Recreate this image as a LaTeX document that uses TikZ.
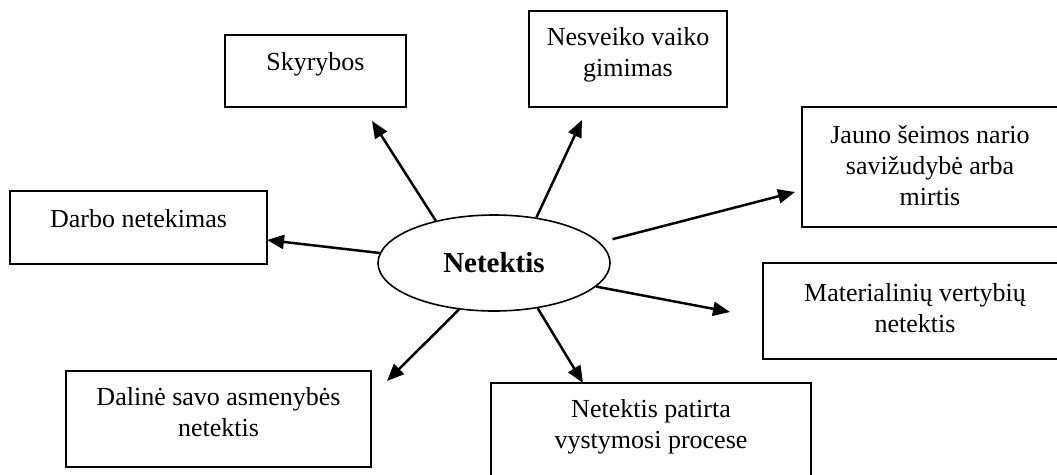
\documentclass[tikz,border=0pt]{standalone}
\usepackage{fontspec}
\setmainfont{Liberation Serif}
\usetikzlibrary{shapes.geometric,arrows.meta}

\tikzstyle{box} = [draw, line width=1.6pt, inner sep=0pt]
\tikzstyle{loss} = [ellipse, draw, line width=1.6pt, inner sep=0pt, minimum width=232pt, minimum height=96pt, font=\bfseries\fontsize{29}{32}\selectfont]
\tikzstyle{edge} = [draw, line width=2.5pt, -{Triangle[length=17pt,width=14pt]}]
\tikzstyle{caption} = [align=center, font=\fontsize{26}{31}\selectfont]

\begin{document}
\begin{tikzpicture}[x=1pt, y=-1pt]
     \clip (0,0) rectangle (1057,474);
     % The central ellipse
     \node[loss] (n) at (494,263) {Netektis};

     % Then the boxes round it
     \foreach \pos/\w/\h/\name in { {(315.5,71)/181/72/sky},
       {(628,59)/198/96/nes}, {(930,167)/256/120/jau},
       {(915,311)/304/96/mat}, {(651,433)/320/100/pat},
       {(218.5,419)/305/96/dal}, {(138.5,227.5)/257/73/dar}}
     \node[box, minimum width=\w pt, minimum height=\h pt] (\name) at \pos {};

     % Texts, set a little high in the boxes
     \node[caption] (sky-t) at (315.5,64) {Skyrybos};
     \node[caption] (nes-t) at (628,55) {Nesveiko vaiko\\gimimas};
     \node[caption] (jau-t) at (930,166) {Jauno šeimos nario\\savižudybė arba\\mirtis};
     \node[caption] (mat-t) at (915,308) {Materialinių vertybių\\netektis};
     \node[caption] (pat-t) at (651,427) {Netektis patirta\\vystymosi procese};
     \node[caption] (dal-t) at (218.5,412) {Dalinė savo asmenybės\\netektis};
     \node[caption] (dar-t) at (138.5,219) {Darbo netekimas};

     % Free ends of the arrows
     \coordinate (sky-tip) at (372,121);
     \coordinate (nes-tip) at (582,120);
     \coordinate (jau-tip) at (795,192);
     \coordinate (mat-tip) at (730,312);
     \coordinate (pat-tip) at (583,383);
     \coordinate (dal-tip) at (387,381);
     \coordinate (dar-tip) at (267,240);

     % Arrows out of the ellipse
     \foreach \angle/\dest in {144/sky-tip, 47/nes-tip, -13/mat-tip,
       -46/pat-tip, -127/dal-tip, 175.5/dar-tip}
     \path[edge] (n.\angle) -- (\dest);
     \path[edge, shorten <=13pt] (n.11) -- (jau-tip);
\end{tikzpicture}
\end{document}
